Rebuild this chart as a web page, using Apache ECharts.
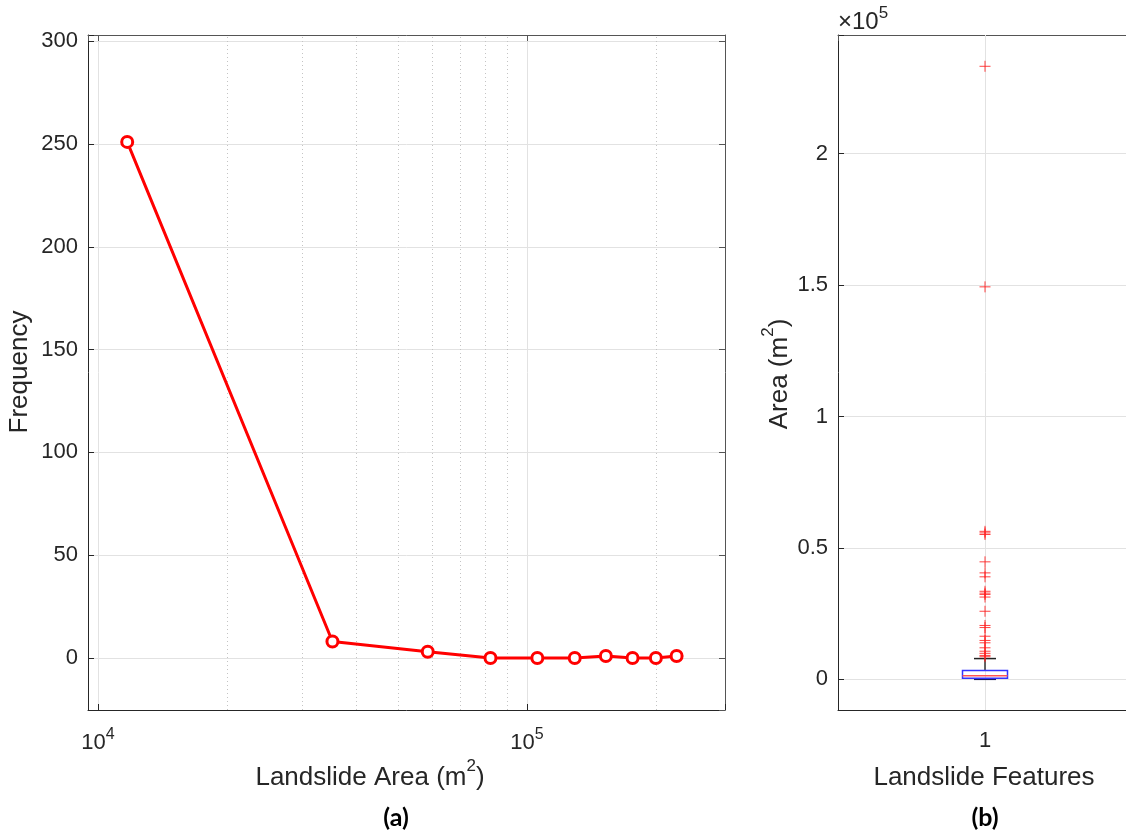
<!DOCTYPE html>
<html>
<head>
<meta charset="utf-8">
<script src="https://cdn.jsdelivr.net/npm/echarts@6/dist/echarts.min.js"></script>
<style>
  html, body { margin: 0; padding: 0; background: #ffffff; }
  #chart { width: 1126px; height: 834px; }
</style>
</head>
<body>
<div id="chart"></div>
<script>
// Histogram of landslide areas: bin centres (m^2) and the count in each bin
const binCentres = [11700, 35200, 58700, 82200, 105700, 129200, 152700, 176200, 199700, 223200];
const frequency = [251, 8, 3, 0, 0, 0, 1, 0, 0, 1];

// Intermediate log-decade positions drawn as dotted minor grid lines
const minorLines = [20000, 30000, 40000, 50000, 60000, 70000, 80000, 90000, 200000];

// Box-plot summary of feature areas (m^2): lower whisker, Q1, median, Q3, upper whisker
const featureIds = [1];
const boxStats = [100, 400, 1400, 3400, 7900];

// Areas flagged as outliers (m^2)
const outliers = [233200, 149300, 56300, 55700, 55100, 44700, 40500, 39000, 33500, 32800,
  32300, 31300, 25900, 20500, 19700, 16400, 14800, 13900, 12000, 10700, 9900, 9100, 8600];

// Tick label text for the area axis (x 10^5)
const areaTickLabels = { 0: '0', 50000: '0.5', 100000: '1', 150000: '1.5', 200000: '2' };

const FONT = '"Liberation Sans", Arial, Helvetica, sans-serif';
const INK = '#262626';
const GRID = '#e2e2e2';

const chart = echarts.init(document.getElementById('chart'), null, { renderer: 'canvas' });

const supRich = {
  b: { fontSize: 22, fontFamily: FONT, color: INK, lineHeight: 32 },
  s: { fontSize: 16, fontFamily: FONT, color: INK, lineHeight: 16, verticalAlign: 'top' }
};

const frameAxis = {
  axisLine: { show: true, onZero: false, lineStyle: { color: '#555555', width: 1 } },
  axisTick: { show: true, inside: true, length: 6, lineStyle: { color: '#555555' } },
  axisLabel: { show: false },
  splitLine: { show: false }
};

const option = {
  animation: false,
  backgroundColor: '#ffffff',
  grid: [
    { left: 88, top: 35, width: 637, height: 675, outerBoundsMode: 'none', containLabel: false },
    { left: 838, top: 35, width: 294, height: 675, outerBoundsMode: 'none', containLabel: false }
  ],
  xAxis: [
    {
      type: 'log', logBase: 10, gridIndex: 0, min: 9480, max: 289400,
      axisLine: { show: true, onZero: false, lineStyle: { color: INK } },
      axisTick: { show: true, inside: true, length: 6, lineStyle: { color: INK } },
      axisLabel: {
        margin: 17,
        formatter: function (v) {
          const p = Math.log10(v);
          if (Math.abs(p - Math.round(p)) > 1e-6) return '';
          return '{b|10}{s|' + Math.round(p) + '}';
        },
        rich: supRich
      },
      splitLine: { show: true, lineStyle: { color: GRID, width: 1 } }
    },
    Object.assign({ type: 'log', logBase: 10, gridIndex: 0, min: 9480, max: 289400, position: 'top' }, frameAxis),
    {
      type: 'value', gridIndex: 1, min: 0.5, max: 1.5, interval: 0.5,
      axisLine: { show: true, onZero: false, lineStyle: { color: INK } },
      axisTick: { show: true, inside: true, length: 6, lineStyle: { color: INK } },
      axisLabel: {
        margin: 20, fontSize: 22, fontFamily: FONT, color: INK,
        formatter: function (v) { return featureIds.indexOf(v) >= 0 ? String(v) : ''; }
      },
      splitLine: { show: false }
    },
    Object.assign({ type: 'value', gridIndex: 1, min: 0.5, max: 1.5, interval: 0.5, position: 'top' }, frameAxis)
  ],
  yAxis: [
    {
      type: 'value', gridIndex: 0, min: -25.3, max: 303,
      axisLine: { show: true, onZero: false, lineStyle: { color: INK } },
      axisTick: { show: true, inside: true, length: 6, lineStyle: { color: INK } },
      axisLabel: {
        margin: 10, fontSize: 22, fontFamily: FONT, color: INK,
        formatter: function (v) { return v % 50 === 0 ? String(v) : ''; }
      },
      splitLine: { show: true, lineStyle: { color: GRID, width: 1 } }
    },
    Object.assign({ type: 'value', gridIndex: 0, min: -25.3, max: 303, position: 'right' }, frameAxis),
    {
      type: 'value', gridIndex: 1, min: -11660, max: 245100,
      axisLine: { show: true, onZero: false, lineStyle: { color: INK } },
      axisTick: { show: true, inside: true, length: 6, lineStyle: { color: INK } },
      axisLabel: {
        margin: 10, fontSize: 22, fontFamily: FONT, color: INK,
        formatter: function (v) { return areaTickLabels[v] !== undefined ? areaTickLabels[v] : ''; }
      },
      splitLine: { show: true, lineStyle: { color: GRID, width: 1 } }
    }
  ],
  series: [
    {
      name: 'Frequency',
      type: 'line',
      xAxisIndex: 0, yAxisIndex: 0,
      data: binCentres.map(function (x, i) { return [x, frequency[i]]; }),
      symbol: 'circle',
      symbolSize: 11,
      lineStyle: { color: '#ff0000', width: 3 },
      itemStyle: { color: '#ffffff', borderColor: '#ff0000', borderWidth: 3 },
      z: 5,
      markLine: {
        silent: true,
        symbol: ['none', 'none'],
        label: { show: false },
        lineStyle: { color: '#c4c4c4', width: 1, type: [1, 3] },
        data: minorLines.map(function (v) { return { xAxis: v }; }),
        z: 1
      }
    },
    {
      name: 'Box',
      type: 'custom',
      coordinateSystem: 'cartesian2d',
      xAxisIndex: 2, yAxisIndex: 2,
      data: featureIds.map(function (id) { return [id].concat(boxStats); }),
      encode: { x: 0, y: [1, 2, 3, 4, 5] },
      z: 4,
      renderItem: function (params, api) {
        const x = api.value(0);
        const pt = function (v) { return api.coord([x, api.value(v)]); };
        const lo = pt(1), q1 = pt(2), med = pt(3), q3 = pt(4), hi = pt(5);
        const cx = lo[0];
        const half = 22.5, cap = 11;
        const line = function (x1, y1, x2, y2, color, w) {
          return { type: 'line', shape: { x1: x1, y1: y1, x2: x2, y2: y2 },
                   style: { stroke: color, lineWidth: w || 1 } };
        };
        return {
          type: 'group',
          children: [
            line(cx, q3[1], cx, hi[1], '#333333', 1.5),
            line(cx, q1[1], cx, lo[1], '#333333', 1.5),
            line(cx - cap, hi[1], cx + cap, hi[1], '#222222', 1.5),
            line(cx - cap, lo[1], cx + cap, lo[1], '#1a1a5a', 2),
            { type: 'rect', shape: { x: cx - half, y: q3[1], width: half * 2, height: q1[1] - q3[1] },
              style: { fill: 'none', stroke: '#3333ff', lineWidth: 1.5 } },
            line(cx - half, med[1], cx + half, med[1], '#ff5555', 1.5)
          ]
        };
      }
    },
    {
      name: 'Outliers',
      type: 'scatter',
      xAxisIndex: 2, yAxisIndex: 2,
      data: outliers.map(function (v) { return [1, v]; }),
      symbol: 'path://M0,5L10,5M5,0L5,10',
      symbolSize: 11,
      itemStyle: { color: 'transparent', borderColor: '#ff2020', borderWidth: 1, opacity: 0.85 },
      z: 6,
      markLine: {
        silent: true,
        symbol: ['none', 'none'],
        label: { show: false },
        lineStyle: { color: GRID, width: 1, type: 'solid' },
        data: featureIds.map(function (id) { return { xAxis: id }; }),
        z: 1
      }
    }
  ],
  graphic: [
    { type: 'text', x: 20, y: 372, rotation: Math.PI / 2,
      style: { text: 'Frequency', fontSize: 26, fontFamily: FONT, fill: INK, align: 'center', verticalAlign: 'middle' } },
    { type: 'text', x: 370, y: 778,
      style: { text: '{b|Landslide Area (m}{s|2}{b|)}', align: 'center', verticalAlign: 'middle',
        rich: {
          b: { fontSize: 26, fontFamily: FONT, fill: INK, lineHeight: 40 },
          s: { fontSize: 17, fontFamily: FONT, fill: INK, lineHeight: 17, verticalAlign: 'top' }
        } } },
    { type: 'text', x: 780, y: 374, rotation: Math.PI / 2,
      style: { text: '{b|Area (m}{s|2}{b|)}', align: 'center', verticalAlign: 'middle',
        rich: {
          b: { fontSize: 26, fontFamily: FONT, fill: INK, lineHeight: 40 },
          s: { fontSize: 17, fontFamily: FONT, fill: INK, lineHeight: 17, verticalAlign: 'top' }
        } } },
    { type: 'text', x: 984, y: 778,
      style: { text: 'Landslide Features', fontSize: 26, fontFamily: FONT, fill: INK, align: 'center', verticalAlign: 'middle' } },
    { type: 'text', x: 838, y: 22,
      style: { text: '{b|\u00d710}{s|5}', align: 'left', verticalAlign: 'middle',
        rich: {
          b: { fontSize: 24, fontFamily: FONT, fill: INK, lineHeight: 34 },
          s: { fontSize: 17, fontFamily: FONT, fill: INK, lineHeight: 17, verticalAlign: 'top' }
        } } },
    { type: 'text', x: 396, y: 818,
      style: { text: '(a)', fontSize: 25, fontWeight: 'bold', fontFamily: 'Lato, "Open Sans", sans-serif', fill: '#000000', align: 'center', verticalAlign: 'middle' } },
    { type: 'text', x: 985, y: 818,
      style: { text: '(b)', fontSize: 25, fontWeight: 'bold', fontFamily: 'Lato, "Open Sans", sans-serif', fill: '#000000', align: 'center', verticalAlign: 'middle' } }
  ]
};

chart.setOption(option);
</script>
</body>
</html>
